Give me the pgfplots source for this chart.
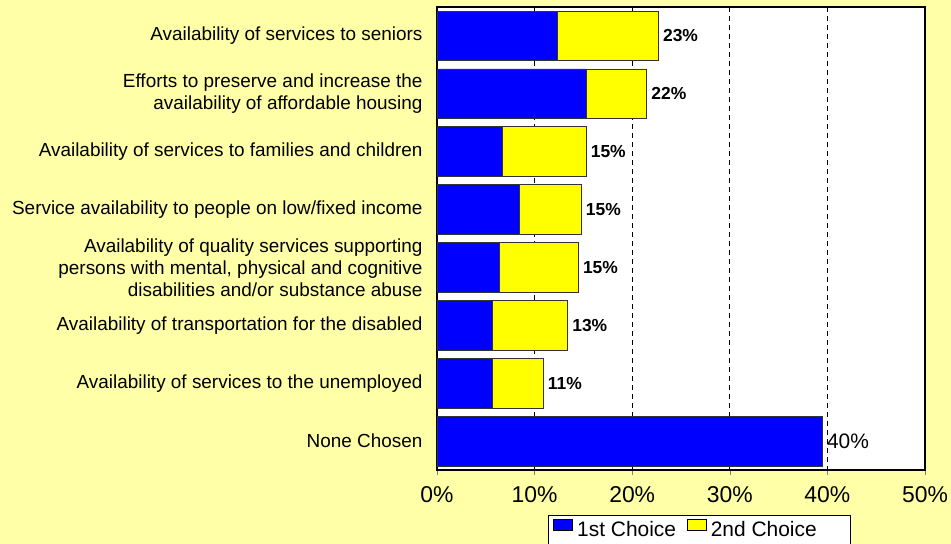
\documentclass[border=0pt]{standalone}
\usepackage{pgfplots}
\pgfplotsset{compat=1.18}
\usepackage{fontspec}
\setmainfont{Liberation Sans}
\definecolor{bgyellow}{HTML}{FFFFA8}
\definecolor{barblue}{HTML}{0000FF}
\definecolor{baryellow}{HTML}{FFFF00}

\pgfplotsset{
  chartbox/.style={
    at={(0,0)}, anchor=south west,
    scale only axis, width=488bp, height=463bp,
    xmin=0, xmax=50, ymin=-0.5, ymax=7.5,
    y dir=reverse,
  },
}

\begin{document}
\begin{tikzpicture}
\fill[bgyellow] (-437bp,-74bp) rectangle (514bp,470bp);
\begin{axis}[
  chartbox,
  axis background/.style={fill=white},
  xbar stacked, bar width=0.86,
  xtick={0,10,...,50},
  xticklabel={\pgfmathprintnumber{\tick}\%},
  /pgf/number format/assume math mode=true,
  xtick pos=bottom, tick align=outside,
  major tick length=5bp,
  xticklabel style={font=\fontsize{23}{23}\selectfont, yshift=-8bp},
  ytick={0,...,7},
  ytick style={draw=none},
  yticklabels={
    Availability of services to seniors,
    {Efforts to preserve and increase the\\availability of affordable housing},
    Availability of services to families and children,
    Service availability to people on low/fixed income,
    {Availability of quality services supporting\\persons with mental, physical and cognitive\\disabilities and/or substance abuse},
    Availability of transportation for the disabled,
    Availability of services to the unemployed,
    None Chosen},
  yticklabel style={font=\fontsize{19}{22}\selectfont, align=right, xshift=-6bp},
  axis line style={line width=1.6bp},
  xmajorgrids,
  grid style={black, line width=0.8bp, dash pattern=on 5bp off 4bp},
  legend style={at={(0.2275,-0.097)}, anchor=north west, legend columns=2,
    draw=black, fill=white, line width=0.8bp,
    font=\fontsize{21}{21}\selectfont, inner xsep=2bp, inner ysep=4bp,
    /tikz/every even column/.append style={column sep=6bp}},
]
\addplot[fill=barblue, draw=black!80, line width=0.8bp,
  legend image code/.code={\path (0bp,0bp) (24bp,0bp); \draw[fill=barblue, draw=black, line width=0.8bp] (3bp,-1bp) rectangle (22bp,10bp);}]
  coordinates {
  (12.3,0)
  (15.3,1)
  (6.7,2)
  (8.4,3)
  (6.4,4)
  (5.7,5)
  (5.7,6)
  (39.5,7)
};
\addlegendentry{1st Choice}
\addplot[fill=baryellow, draw=black!80, line width=0.8bp,
  legend image code/.code={\path (0bp,0bp) (24bp,0bp); \draw[fill=baryellow, draw=black, line width=0.8bp] (3bp,-1bp) rectangle (22bp,10bp);}]
  coordinates {
  (10.4,0)
  (6.2,1)
  (8.6,2)
  (6.4,3)
  (8.1,4)
  (7.7,5)
  (5.2,6)
};
\addlegendentry{2nd Choice\kern 30bp}
\end{axis}
% totals written to the right of each bar
\begin{axis}[chartbox, hide axis, clip=false]
\addplot[draw=none, mark=none, nodes near coords, point meta=explicit symbolic,
  every node near coord/.append style={anchor=west, text=black, xshift=1bp,
    font=\fontsize{17.5}{17.5}\selectfont\bfseries}]
  coordinates {
  (22.7,0) [23\%]
  (21.5,1) [22\%]
  (15.3,2) [15\%]
  (14.8,3) [15\%]
  (14.5,4) [15\%]
  (13.4,5) [13\%]
  (10.9,6) [11\%]
  (39.5,7) [{\fontsize{21}{21}\mdseries\selectfont 40\%}]
};
\end{axis}
\pgfresetboundingbox
\useasboundingbox (-437bp,-74bp) rectangle (514bp,470bp);
\end{tikzpicture}
\end{document}
